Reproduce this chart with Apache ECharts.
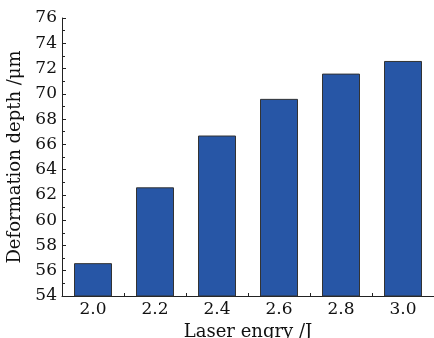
<!DOCTYPE html>
<html><head><meta charset="utf-8">
<script src="https://cdn.jsdelivr.net/npm/echarts@6/dist/echarts.min.js"></script>
<style>html,body{margin:0;padding:0;background:#fff}#c{width:434px;height:338px}</style>
</head><body><div id="c"></div>
<script>
const categories = ['2.0','2.2','2.4','2.6','2.8','3.0'];
const depth = [56.6, 62.6, 66.7, 69.6, 71.6, 72.6];
const yMin = 54, yMax = 76, yStep = 2;
const xName = 'Laser engry /J';
const yName = 'Deformation depth /\u03bcm';

const font = 'DejaVu Serif';
const chart = echarts.init(document.getElementById('c'));
chart.setOption({
  animation: false,
  grid: {left: 62, right: 0, top: 18, bottom: 42, containLabel: false, outerBoundsMode: 'none'},
  xAxis: [{
    type: 'category', data: categories,
    axisLine: {lineStyle: {color: '#222', width: 1}},
    axisTick: {show: true, inside: true, alignWithLabel: true, length: 4, lineStyle: {color: '#222'}},
    axisLabel: {color: '#111', fontFamily: font, fontSize: 17, margin: 5},
    name: xName, nameLocation: 'middle', nameGap: 20,
    nameTextStyle: {color: '#111', fontFamily: font, fontSize: 18}
  }, {
    type: 'category', data: categories, position: 'bottom',
    axisLine: {show: false},
    axisTick: {show: true, inside: true, length: 3, lineStyle: {color: '#222'}},
    axisLabel: {show: false}
  }],
  yAxis: {
    type: 'value', min: yMin, max: yMax, interval: yStep,
    splitLine: {show: false},
    axisLine: {show: true, lineStyle: {color: '#222', width: 1}},
    axisTick: {show: true, inside: true, length: 4, lineStyle: {color: '#222'}},
    minorTick: {show: true, splitNumber: 2, length: 3, lineStyle: {color: '#222'}},
    axisLabel: {color: '#111', fontFamily: font, fontSize: 17, margin: 5},
    name: yName, nameLocation: 'middle', nameGap: 38, nameRotate: 90,
    nameTextStyle: {color: '#111', fontFamily: font, fontSize: 18}
  },
  series: [{
    type: 'bar', data: depth, barWidth: 38,
    itemStyle: {color: '#2756a6', borderColor: '#333', borderWidth: 1}
  }]
});
</script></body></html>
